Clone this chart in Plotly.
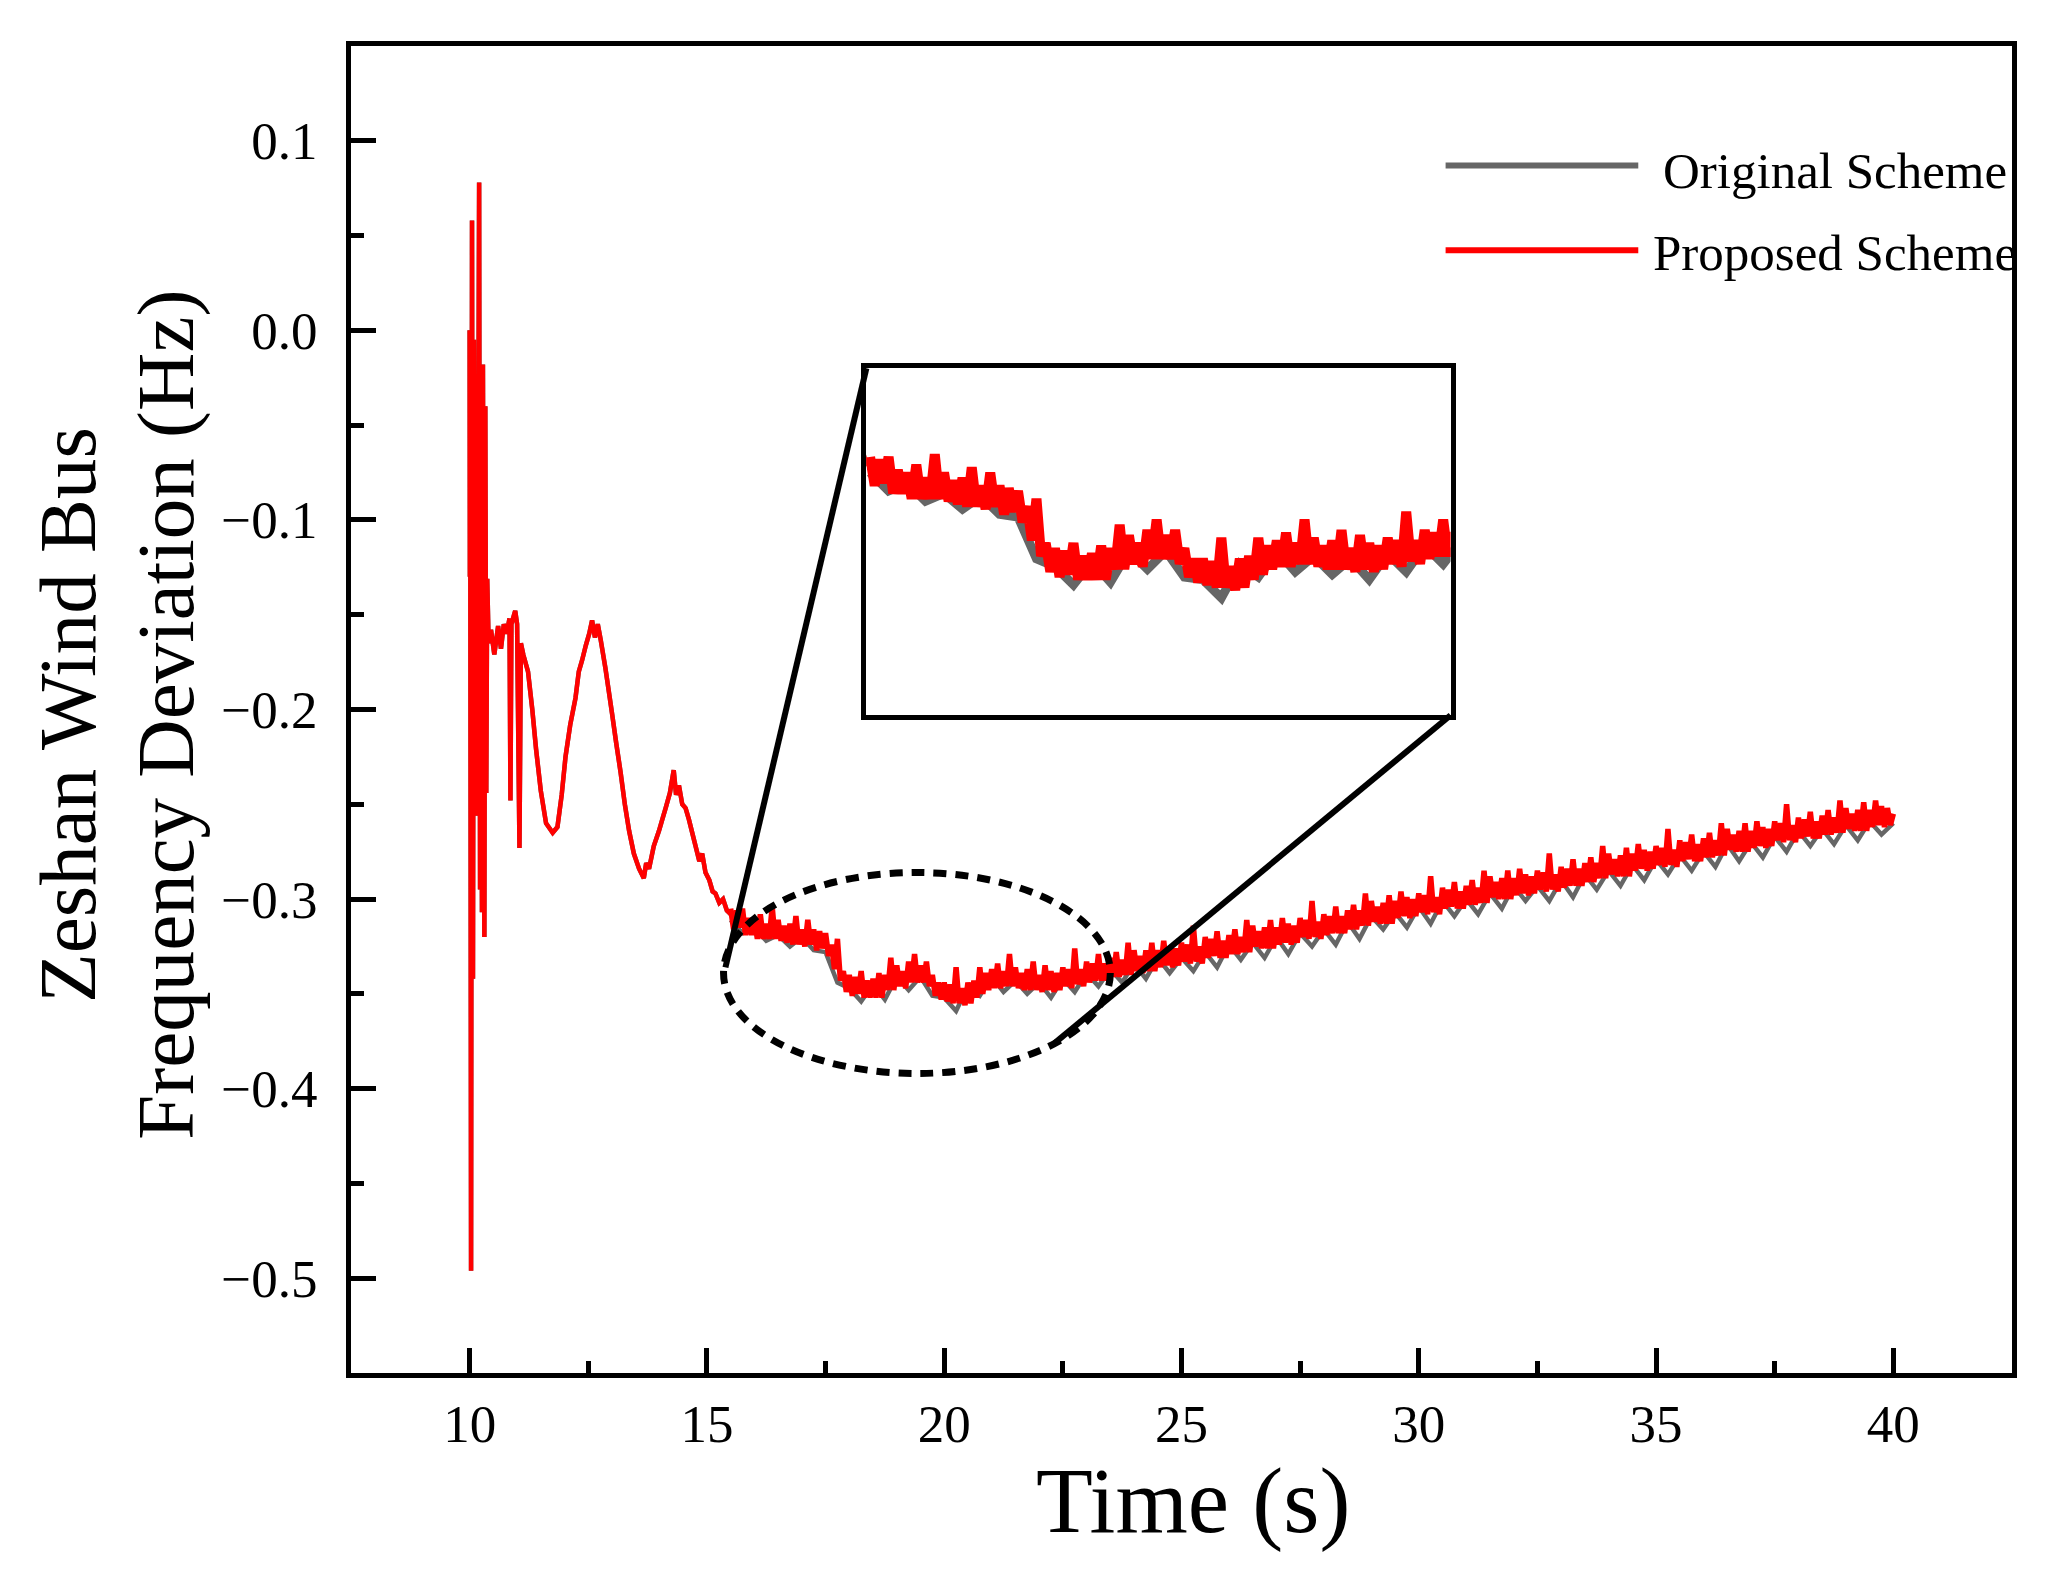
import plotly.graph_objs as go

### Data ###

# 10 s - 15.5 s : the two schemes lie on top of each other
time_early = [10.00, 10.005, 10.01, 10.03, 10.05, 10.07, 10.09, 10.11, 10.13, 10.16,
              10.20, 10.22, 10.24, 10.26, 10.28, 10.31, 10.33, 10.35, 10.37, 10.40,
              10.45, 10.52, 10.60, 10.66, 10.72, 10.78, 10.84, 10.86, 10.88, 10.96,
              11.00, 11.05, 11.08, 11.13, 11.23, 11.32, 11.40, 11.50, 11.61, 11.75,
              11.85, 11.94, 12.02, 12.12, 12.23, 12.30, 12.37, 12.45, 12.52, 12.58,
              12.64, 12.70, 12.76, 12.86, 12.93, 13.00, 13.09, 13.18, 13.27, 13.36,
              13.46, 13.57, 13.67, 13.72, 13.78, 13.88, 13.99, 14.06, 14.13, 14.22,
              14.30, 14.35, 14.41, 14.48, 14.55, 14.62, 14.70, 14.76, 14.84, 14.90,
              14.97, 15.05, 15.12, 15.18, 15.26, 15.34, 15.42, 15.50]
freq_early = [0.000, -0.130, 0.000, -0.496, 0.058, -0.342, -0.005, -0.140, -0.060, -0.256,
              0.078, -0.295, -0.084, -0.307, -0.018, -0.320, -0.040, -0.244, -0.131, -0.165,
              -0.158, -0.171, -0.156, -0.168, -0.155, -0.160, -0.152, -0.248, -0.155, -0.148,
              -0.155, -0.273, -0.165, -0.171, -0.180, -0.200, -0.221, -0.243, -0.260, -0.265,
              -0.262, -0.245, -0.225, -0.208, -0.194, -0.180, -0.174, -0.166, -0.160, -0.153,
              -0.162, -0.155, -0.163, -0.178, -0.190, -0.202, -0.218, -0.233, -0.250, -0.264,
              -0.276, -0.284, -0.289, -0.281, -0.284, -0.272, -0.264, -0.258, -0.252, -0.244,
              -0.232, -0.245, -0.240, -0.250, -0.252, -0.258, -0.266, -0.272, -0.280, -0.276,
              -0.286, -0.290, -0.296, -0.297, -0.302, -0.300, -0.306, -0.308]

# 15.5 s - 40 s : noisy part, proposed every 0.0625 s (one row = 0.5 s),
# original every 0.25 s
late_start = 15.5
proposed_step = 0.0625
original_step = 0.25

proposed_late = [
    -0.305, -0.316, -0.306, -0.315, -0.305, -0.319, -0.310, -0.319,
    -0.311, -0.321, -0.308, -0.321, -0.313, -0.321, -0.304, -0.321,
    -0.311, -0.322, -0.314, -0.323, -0.313, -0.324, -0.309, -0.324,
    -0.316, -0.325, -0.311, -0.324, -0.316, -0.327, -0.317, -0.326,
    -0.318, -0.330, -0.324, -0.337, -0.321, -0.343, -0.338, -0.349,
    -0.340, -0.351, -0.341, -0.350, -0.338, -0.352, -0.343, -0.352,
    -0.342, -0.352, -0.339, -0.352, -0.340, -0.348, -0.331, -0.348,
    -0.335, -0.346, -0.338, -0.347, -0.333, -0.344, -0.329, -0.344,
    -0.335, -0.344, -0.333, -0.346, -0.340, -0.351, -0.344, -0.353,
    -0.344, -0.354, -0.345, -0.355, -0.336, -0.355, -0.347, -0.356,
    -0.344, -0.355, -0.343, -0.352, -0.336, -0.350, -0.339, -0.348,
    -0.337, -0.347, -0.334, -0.347, -0.338, -0.346, -0.329, -0.346,
    -0.336, -0.347, -0.339, -0.348, -0.337, -0.348, -0.333, -0.348,
    -0.340, -0.349, -0.335, -0.348, -0.338, -0.349, -0.339, -0.348,
    -0.336, -0.346, -0.337, -0.347, -0.326, -0.345, -0.337, -0.346,
    -0.333, -0.344, -0.334, -0.343, -0.329, -0.343, -0.334, -0.343,
    -0.331, -0.341, -0.328, -0.341, -0.332, -0.340, -0.323, -0.340,
    -0.327, -0.338, -0.330, -0.339, -0.327, -0.338, -0.323, -0.338,
    -0.327, -0.336, -0.322, -0.335, -0.325, -0.336, -0.326, -0.335,
    -0.323, -0.333, -0.324, -0.334, -0.314, -0.333, -0.325, -0.334,
    -0.320, -0.331, -0.321, -0.330, -0.317, -0.331, -0.322, -0.331,
    -0.319, -0.329, -0.316, -0.329, -0.320, -0.328, -0.311, -0.328,
    -0.314, -0.325, -0.317, -0.326, -0.315, -0.326, -0.311, -0.326,
    -0.315, -0.324, -0.310, -0.323, -0.313, -0.324, -0.314, -0.323,
    -0.310, -0.320, -0.311, -0.321, -0.301, -0.320, -0.312, -0.321,
    -0.308, -0.319, -0.309, -0.318, -0.304, -0.318, -0.309, -0.318,
    -0.306, -0.316, -0.303, -0.316, -0.306, -0.314, -0.297, -0.314,
    -0.301, -0.312, -0.304, -0.313, -0.302, -0.313, -0.298, -0.313,
    -0.301, -0.310, -0.296, -0.309, -0.299, -0.310, -0.300, -0.309,
    -0.297, -0.307, -0.298, -0.308, -0.288, -0.307, -0.299, -0.308,
    -0.294, -0.305, -0.295, -0.304, -0.291, -0.305, -0.296, -0.305,
    -0.293, -0.303, -0.290, -0.303, -0.294, -0.302, -0.285, -0.302,
    -0.288, -0.299, -0.291, -0.300, -0.289, -0.300, -0.285, -0.300,
    -0.289, -0.298, -0.284, -0.297, -0.287, -0.298, -0.288, -0.297,
    -0.285, -0.295, -0.286, -0.296, -0.276, -0.295, -0.287, -0.296,
    -0.283, -0.294, -0.284, -0.293, -0.279, -0.293, -0.284, -0.293,
    -0.281, -0.291, -0.278, -0.291, -0.281, -0.289, -0.272, -0.289,
    -0.276, -0.287, -0.279, -0.288, -0.277, -0.288, -0.273, -0.288,
    -0.276, -0.285, -0.271, -0.284, -0.274, -0.285, -0.275, -0.284,
    -0.272, -0.282, -0.273, -0.283, -0.263, -0.282, -0.274, -0.283,
    -0.269, -0.280, -0.270, -0.279, -0.266, -0.280, -0.271, -0.280,
    -0.268, -0.278, -0.265, -0.278, -0.269, -0.277, -0.260, -0.277,
    -0.263, -0.274, -0.266, -0.275, -0.264, -0.275, -0.260, -0.275,
    -0.264, -0.273, -0.259, -0.272, -0.262, -0.273, -0.263, -0.272,
    -0.259, -0.269, -0.260, -0.270, -0.250, -0.269, -0.261, -0.270,
    -0.257, -0.268, -0.258, -0.267, -0.254, -0.268, -0.259, -0.268,
    -0.256, -0.266, -0.253, -0.266, -0.257, -0.265, -0.248, -0.265,
    -0.252, -0.263, -0.255, -0.264, -0.253, -0.264, -0.249, -0.264,
    -0.253, -0.262, -0.248, -0.261, -0.251, -0.262, -0.252, -0.261,
    -0.255]

original_late = [
    -0.311, -0.318, -0.315, -0.322, -0.319, -0.325, -0.320, -0.327,
    -0.328, -0.344, -0.347, -0.354, -0.345, -0.353, -0.341, -0.348,
    -0.341, -0.351, -0.352, -0.359, -0.346, -0.351, -0.341, -0.349,
    -0.343, -0.350, -0.344, -0.352, -0.342, -0.349, -0.339, -0.346,
    -0.337, -0.344, -0.334, -0.342, -0.331, -0.339, -0.331, -0.338,
    -0.328, -0.336, -0.324, -0.332, -0.323, -0.331, -0.320, -0.329,
    -0.318, -0.325, -0.316, -0.324, -0.312, -0.321, -0.309, -0.316,
    -0.307, -0.315, -0.304, -0.313, -0.301, -0.309, -0.300, -0.308,
    -0.297, -0.305, -0.293, -0.301, -0.293, -0.301, -0.290, -0.299,
    -0.287, -0.295, -0.285, -0.293, -0.282, -0.290, -0.279, -0.287,
    -0.277, -0.285, -0.275, -0.283, -0.271, -0.280, -0.270, -0.278,
    -0.267, -0.275, -0.264, -0.272, -0.263, -0.271, -0.261, -0.269,
    -0.259, -0.266, -0.260]

x_ticks = [10, 15, 20, 25, 30, 35, 40]
y_ticks = [0.1, 0.0, -0.1, -0.2, -0.3, -0.4, -0.5]

series_names = ["Original Scheme", "Proposed Scheme"]
series_colors = ["#666666", "#ff0000"]

### Layout constants ###

FONT = "Liberation Serif, Times New Roman, serif"
X_RANGE = [7.5, 42.5]
Y_RANGE = [-0.55, 0.15]

# zoom window: where it sits on the main axes, and what it shows
INSET_BOX_X = [18.36, 30.67]
INSET_BOX_Y = [-0.203, -0.020]
INSET_X_RANGE = [15.45, 23.35]
INSET_Y_RANGE = [-0.404, -0.271]

# dashed ellipse around the zoomed part
ELLIPSE_X = [15.35, 23.5]
ELLIPSE_Y = [-0.392, -0.286]
LINK_1 = (15.39, -0.336)   # ellipse point joined to top-left of window
LINK_2 = (22.30, -0.3765)  # ellipse point joined to bottom-right of window


def to_frac(v, rng):
    return (v - rng[0]) / (rng[1] - rng[0])


inset_dom_x = [to_frac(v, X_RANGE) for v in INSET_BOX_X]
inset_dom_y = [to_frac(v, Y_RANGE) for v in INSET_BOX_Y]

### Traces ###

fig = go.Figure()

# (axes, width of the smooth part, width of original noisy part, width of proposed noisy part)
# simplify is off, otherwise plotly drops most of the noise points
for xa, ya, w_early, w_orig, w_prop in [("x", "y", 4.5, 4.5, 5.5), ("x2", "y2", 7, 9, 10)]:
    for name, color, late, step, w_late in [
            (series_names[0], series_colors[0], original_late, original_step, w_orig),
            (series_names[1], series_colors[1], proposed_late, proposed_step, w_prop)]:
        fig.add_trace(go.Scatter(x=time_early, y=freq_early, mode="lines", name=name,
                                 line=dict(color=color, width=w_early, simplify=False),
                                 xaxis=xa, yaxis=ya, showlegend=False))
        fig.add_trace(go.Scatter(x0=late_start, dx=step, y=late, mode="lines", name=name,
                                 line=dict(color=color, width=w_late, simplify=False),
                                 xaxis=xa, yaxis=ya, showlegend=False))

### Axes ###

axis_common = dict(showline=True, linecolor="black", linewidth=5, mirror=True,
                   showgrid=False, zeroline=False, ticks="inside", tickcolor="black",
                   tickwidth=5, ticklen=25, tickfont=dict(family=FONT, size=53, color="black"))

fig.update_layout(
    xaxis=dict(axis_common, range=X_RANGE, tickmode="array", tickvals=x_ticks,
               ticklabelstandoff=0,
               minor=dict(ticks="inside", tick0=7.5, dtick=2.5, ticklen=12, tickwidth=5,
                          tickcolor="black", showgrid=False)),
    yaxis=dict(axis_common, range=Y_RANGE, tickmode="array", tickvals=y_ticks,
               tickformat=".1f", ticklabelstandoff=18,
               minor=dict(ticks="inside", tick0=0, dtick=0.05, ticklen=13, tickwidth=5,
                          tickcolor="black", showgrid=False)),
    xaxis2=dict(domain=inset_dom_x, anchor="y2", range=INSET_X_RANGE, showline=True,
                linecolor="black", linewidth=5, mirror=True, showgrid=False,
                zeroline=False, showticklabels=False, ticks=""),
    yaxis2=dict(domain=inset_dom_y, anchor="x2", range=INSET_Y_RANGE, showline=True,
                linecolor="black", linewidth=5, mirror=True, showgrid=False,
                zeroline=False, showticklabels=False, ticks=""),
)

### Ellipse, connector lines, legend ###

shapes = [
    dict(type="circle", xref="x", yref="y", x0=ELLIPSE_X[0], x1=ELLIPSE_X[1],
         y0=ELLIPSE_Y[0], y1=ELLIPSE_Y[1], line=dict(color="black", width=7, dash="13px,9px")),
    dict(type="line", xref="x", yref="y", x0=LINK_1[0], y0=LINK_1[1],
         x1=INSET_BOX_X[0], y1=INSET_BOX_Y[1], line=dict(color="black", width=6)),
    dict(type="line", xref="x", yref="y", x0=LINK_2[0], y0=LINK_2[1],
         x1=INSET_BOX_X[1], y1=INSET_BOX_Y[0], line=dict(color="black", width=6)),
]

legend_y = [0.910, 0.846]
text_y = [0.906, 0.844]
annotations = []
for i in range(2):
    shapes.append(dict(type="line", xref="paper", yref="paper", x0=0.659, x1=0.775,
                       y0=legend_y[i], y1=legend_y[i],
                       line=dict(color=series_colors[i], width=6)))
    annotations.append(dict(text=series_names[i], xref="paper", yref="paper",
                            x=0.8934, y=text_y[i], xanchor="center", yanchor="middle",
                            showarrow=False, font=dict(family=FONT, size=51, color="black")))

annotations.append(dict(text="Time (s)", xref="paper", yref="paper", x=0.507, y=-0.096,
                        xanchor="center", yanchor="middle", showarrow=False,
                        font=dict(family=FONT, size=93, color="black")))

# y title is two lines, drawn one by one to get Origin's tighter line spacing
y_title_lines = ["Zeshan Wind Bus", "Frequency Deviation (Hz)"]
for text, xpos in zip(y_title_lines, [-0.1704, -0.1114]):
    annotations.append(dict(text=text, xref="paper", yref="paper", x=xpos, y=0.496,
                            xanchor="center", yanchor="middle", textangle=-90,
                            showarrow=False, font=dict(family=FONT, size=81, color="black")))

# figure is 8 px smaller than the window: the page body adds an 8 px margin
fig.update_layout(
    width=2052, height=1568,
    margin=dict(l=343, r=48, t=38, b=203),
    paper_bgcolor="white", plot_bgcolor="white",
    showlegend=False,
    shapes=shapes,
    annotations=annotations,
)

fig.write_html("out.html")
